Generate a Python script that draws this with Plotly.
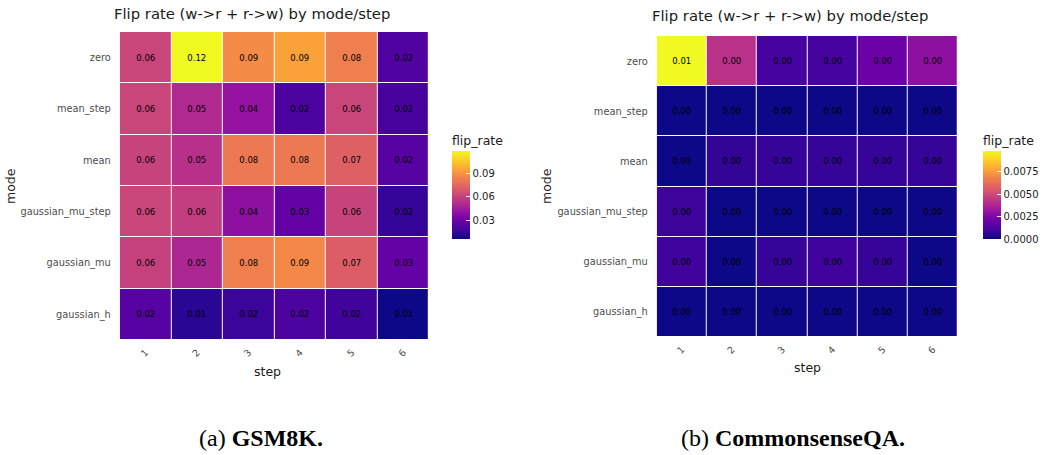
import plotly.graph_objects as go

steps = ["1", "2", "3", "4", "5", "6"]
modes_top_to_bottom = ["zero", "mean_step", "mean", "gaussian_mu_step", "gaussian_mu", "gaussian_h"]

# GSM8K flip rates (rows follow modes_top_to_bottom)
gsm_zero = [0.062, 0.118, 0.087, 0.094, 0.083, 0.022]
gsm_mean_step = [0.062, 0.051, 0.042, 0.021, 0.062, 0.020]
gsm_mean = [0.061, 0.054, 0.081, 0.081, 0.072, 0.024]
gsm_gaussian_mu_step = [0.062, 0.059, 0.040, 0.028, 0.061, 0.016]
gsm_gaussian_mu = [0.060, 0.050, 0.083, 0.086, 0.071, 0.028]
gsm_gaussian_h = [0.024, 0.013, 0.017, 0.021, 0.018, 0.007]

# CommonsenseQA flip rates
csqa_zero = [0.0098, 0.0042, 0.0011, 0.0011, 0.0020, 0.0029]
csqa_mean_step = [0.0, 0.0, 0.0, 0.0, 0.0, 0.0]
csqa_mean = [0.0, 0.0007, 0.0008, 0.0008, 0.0008, 0.0008]
csqa_gaussian_mu_step = [0.0009, 0.0, 0.0, 0.0, 0.0, 0.0]
csqa_gaussian_mu = [0.0010, 0.0, 0.0008, 0.0010, 0.0008, 0.0]
csqa_gaussian_h = [0.0, 0.0, 0.0, 0.0, 0.0, 0.0]

gsm_rows = [gsm_zero, gsm_mean_step, gsm_mean, gsm_gaussian_mu_step, gsm_gaussian_mu, gsm_gaussian_h]
csqa_rows = [csqa_zero, csqa_mean_step, csqa_mean, csqa_gaussian_mu_step, csqa_gaussian_mu, csqa_gaussian_h]

title_text = "Flip rate (w->r + r->w) by mode/step"
legend_title = "flip_rate"
cap_a = "(a) <b>GSM8K.</b>"
cap_b = "(b) <b>CommonsenseQA.</b>"

W, H = 1043, 455
FONT = "DejaVu Sans"
GREY = "#4d4d4d"
DARK = "#1a1a1a"


def px_x(v):
    return v / W


def px_y(v):
    return 1 - v / H


fig = go.Figure()
modes_bottom_up = modes_top_to_bottom[::-1]


def add_heat(rows, xa, ya, cb_x, tickvals, ticktext):
    fig.add_trace(go.Heatmap(
        z=rows[::-1], x=steps, y=modes_bottom_up,
        xaxis=xa, yaxis=ya,
        colorscale="Plasma",
        xgap=1, ygap=1,
        texttemplate="%{z:.2f}",
        textfont=dict(family=FONT, size=8.5, color="black"),
        hoverinfo="skip",
        colorbar=dict(
            x=px_x(cb_x), xanchor="left", xpad=0,
            y=px_y(151), yanchor="top", ypad=0,
            len=88 / H, lenmode="fraction",
            thickness=18, outlinewidth=0,
            ticks="inside", ticklen=4, tickcolor="white",
            tickvals=tickvals, ticktext=ticktext,
            tickfont=dict(family=FONT, size=10, color=DARK),
        ),
    ))


add_heat(gsm_rows, "x", "y", 453, [0.03, 0.06, 0.09], ["0.03", "0.06", "0.09"])
add_heat(csqa_rows, "x2", "y2", 985, [0.0, 0.0025, 0.005, 0.0075], ["0.0000", "0.0025", "0.0050", "0.0075"])

ax_common = dict(showgrid=False, zeroline=False, ticks="", showline=False)

fig.update_layout(
    width=W, height=H,
    margin=dict(l=0, r=0, t=0, b=0),
    paper_bgcolor="white", plot_bgcolor="white",
    font=dict(family=FONT),
    xaxis=dict(domain=[px_x(120), px_x(430)], anchor="y", type="category", tickangle=-45,
               tickfont=dict(family=FONT, size=9.5, color=GREY), ticklabelstandoff=4, **ax_common),
    yaxis=dict(domain=[px_y(340), px_y(32)], anchor="x", type="category",
               tickfont=dict(family=FONT, size=9.8, color=GREY), ticklabelstandoff=8, **ax_common),
    xaxis2=dict(domain=[px_x(658), px_x(960)], anchor="y2", type="category", tickangle=-45,
                tickfont=dict(family=FONT, size=9.5, color=GREY), ticklabelstandoff=4, **ax_common),
    yaxis2=dict(domain=[px_y(337), px_y(36)], anchor="x2", type="category",
                tickfont=dict(family=FONT, size=9.8, color=GREY), ticklabelstandoff=8, **ax_common),
)

ann = []


def text(x, y, t, size, color=DARK, angle=0, fam=FONT, xanchor="center"):
    ann.append(dict(x=px_x(x), y=px_y(y), xref="paper", yref="paper", text=t, showarrow=False,
                    xanchor=xanchor, yanchor="middle", textangle=angle,
                    font=dict(family=fam, size=size, color=color)))


text(252, 13, title_text, 14.8)
text(792, 16, title_text, 14.8)
text(10, 186, "mode", 12.5, angle=-90)
text(547, 186, "mode", 12.5, angle=-90)
text(268, 371, "step", 12.5)
text(809, 367, "step", 12.5)
text(451, 140, legend_title, 12.5, xanchor="left")
text(983, 140, legend_title, 12.5, xanchor="left")
text(262, 438, cap_a, 24, color="black", fam="Liberation Serif")
text(795, 438, cap_b, 24, color="black", fam="Liberation Serif")
fig.update_layout(annotations=ann)

fig.write_html("out.html", config={"displayModeBar": False},
               post_script="document.body.style.margin='0px';")
